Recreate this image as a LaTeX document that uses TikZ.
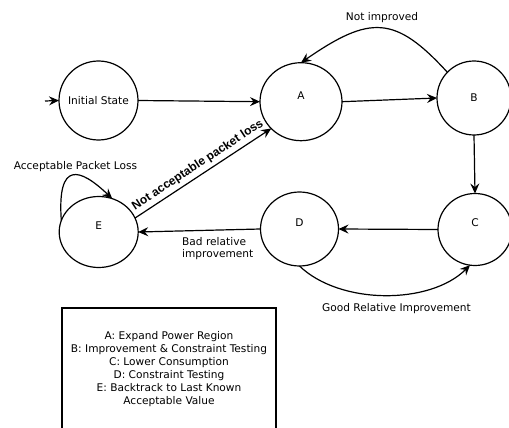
\documentclass[tikz,border=0pt]{standalone}
\usepackage{fontspec}
\setmainfont{DejaVu Sans}
\newfontfamily\boldlab{Liberation Sans}
\usetikzlibrary{shapes.geometric,arrows.meta}
\begin{document}
\begin{tikzpicture}[x=1pt,y=-1pt,
  state/.style={draw,ellipse,line width=1.2pt,inner sep=0pt,outer sep=0pt},
  arr/.style={line width=1.2pt,-{Stealth[length=10pt,width=9pt,inset=3.5pt]}},
  lab/.style={font=\fontsize{10.6}{12}\selectfont,inner sep=0pt},
  ]
\useasboundingbox (0,0) rectangle (509,428);
% states
\node[state,minimum width=79pt,minimum height=79pt,label={[lab]center:Initial State}] (I) at (98.5,100.5) {};
\node[state,minimum width=82pt,minimum height=78pt,label={[lab,yshift=6.5pt]center:A}] (A) at (301,101.7) {};
\node[state,minimum width=74pt,minimum height=74pt,label={[lab]center:B}] (B) at (474,98) {};
\node[state,minimum width=74pt,minimum height=72pt,label={[lab,yshift=6.5pt]center:C}] (C) at (475,229.5) {};
\node[state,minimum width=78pt,minimum height=74pt,label={[lab,yshift=6.5pt]center:D}] (D) at (299.5,229) {};
\node[state,minimum width=79pt,minimum height=71pt,label={[lab,yshift=6pt]center:E}] (E) at (98.7,232) {};
% entry
\coordinate (start) at (45,101);
\draw[arr] (start) -- (I.west);
% edges
\draw[arr] (I.east) -- (A.west);
\draw[arr] (A.east) -- (B.west);
\draw[arr] (B.136) .. controls (395,15) and (370,15) .. (A.north);
\node[lab] (notimp) at (382,18) {Not improved};
\draw[arr] (B.south) -- (C.north);
\draw[arr] (C.west) -- (D.east);
\draw[arr] (D.west) -- (E.east);
\node[lab,anchor=west,align=left] (bad) at (182,248.5) {Bad relative\\improvement};
\draw[arr] (D.south) .. controls (340,305) and (430,305) .. (C.-98);
\node[lab] (good) at (396.5,309) {Good Relative Improvement};
\draw[arr] (E.21) -- (A.222) node[pos=0.5,sloped,above=2.5pt,inner sep=1pt,font=\boldlab\bfseries\fontsize{12}{14}\selectfont] (notacc) {Not acceptable packet loss};
\draw[arr] (E.163) .. controls (57,160) and (80,168) .. (E.68);
\node[lab] (accpl) at (75.5,167) {Acceptable Packet Loss};
% legend
\draw[line width=1.2pt] (62,430) -- (62,308) -- (276,308) -- (276,430);
\node[lab,align=center,font=\fontsize{10.6}{13}\selectfont] (legend) at (169,369) {A: Expand Power Region\\B: Improvement \& Constraint Testing\\C: Lower Consumption\\D: Constraint Testing\\E: Backtrack to Last Known\\Acceptable Value};
\end{tikzpicture}
\end{document}
